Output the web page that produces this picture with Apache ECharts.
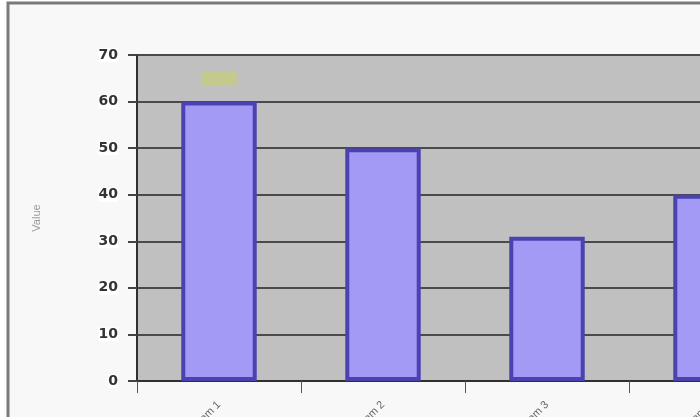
<!DOCTYPE html>
<html>
<head>
<meta charset="utf-8">
<script src="https://cdn.jsdelivr.net/npm/echarts@6/dist/echarts.min.js"></script>
<style>
html, body { margin: 0; padding: 0; background: #ffffff; }
#chart { width: 700px; height: 417px; }
</style>
</head>
<body>
<div id="chart"></div>
<script>
// data
var categories = ['Item 1', 'Item 2', 'Item 3', 'Item 4'];
var values = [60, 50, 31, 40];
var yTicks = [0, 10, 20, 30, 40, 50, 60, 70];

var myChart = echarts.init(document.getElementById('chart'));

// only the first bar carries the small label block
var barData = values.map(function (v, i) {
    if (i === 0) {
        return {
            value: v,
            label: {
                show: true,
                position: 'top',
                distance: 16,
                formatter: '    ',
                backgroundColor: '#c4c98e',
                padding: [2, 12],
                fontSize: 10
            }
        };
    }
    return v;
});

var option = {
    backgroundColor: '#ffffff',
    animation: false,
    graphic: [{
        type: 'rect',
        shape: { x: 8, y: 3, width: 700, height: 420 },
        style: { fill: '#f8f8f8', stroke: '#7a7a7a', lineWidth: 3 },
        z: -10
    }],
    grid: {
        left: 137,
        right: -93,
        top: 55,
        bottom: 36,
        outerBoundsMode: 'none',
        containLabel: false,
        show: true,
        backgroundColor: '#c0c0c0',
        borderColor: '#7a7a7a',
        borderWidth: 1
    },
    xAxis: {
        type: 'category',
        data: categories,
        boundaryGap: true,
        axisLine: { lineStyle: { color: '#303030', width: 2 } },
        axisTick: { show: true, length: 12, lineStyle: { color: '#555' } },
        axisLabel: {
            rotate: 45,
            margin: 22,
            color: '#666',
            fontSize: 11,
            fontFamily: 'Liberation Sans'
        }
    },
    yAxis: {
        type: 'value',
        min: yTicks[0],
        max: yTicks[yTicks.length - 1],
        interval: 10,
        name: 'Value',
        nameLocation: 'middle',
        nameGap: 95,
        nameTextStyle: { color: '#9a9a9a', fontSize: 11 },
        axisLine: { show: true, lineStyle: { color: '#303030', width: 2 } },
        axisTick: { show: true, length: 9, lineStyle: { color: '#444', width: 2 } },
        axisLabel: {
            margin: 19,
            color: '#333',
            fontSize: 14,
            fontWeight: 'bold',
            fontFamily: 'DejaVu Sans',
            backgroundColor: '#ffffff'
        },
        splitLine: { lineStyle: { color: '#4a4a4a', width: 2 } }
    },
    series: [{
        type: 'bar',
        data: barData,
        barWidth: '46%',
        itemStyle: {
            color: '#a29af4',
            borderColor: '#4a42b0',
            borderWidth: 4
        }
    }]
};

myChart.setOption(option);
</script>
</body>
</html>
